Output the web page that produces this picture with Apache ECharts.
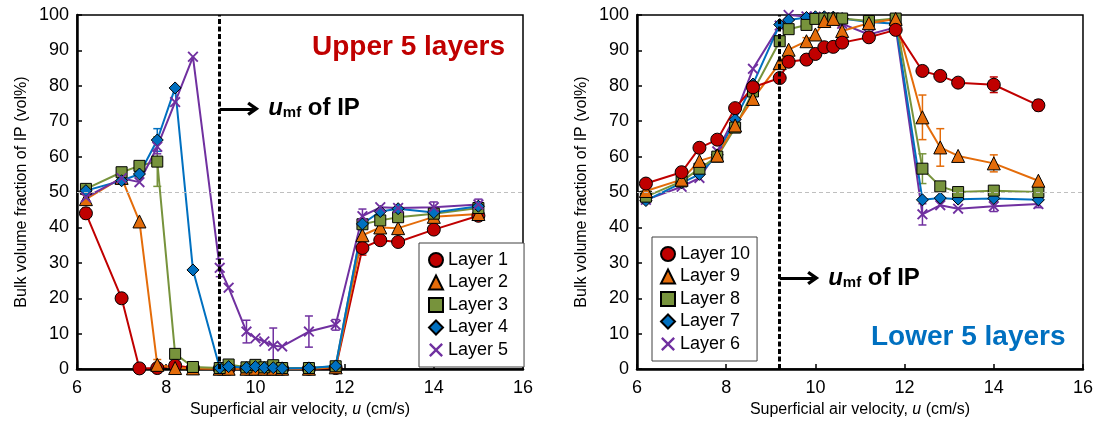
<!DOCTYPE html>
<html>
<head>
<meta charset="utf-8">
<script src="https://cdn.jsdelivr.net/npm/echarts@6/dist/echarts.min.js"></script>
<style>html,body{margin:0;padding:0;background:#fff;}#c{width:1096px;height:423px;}</style>
</head>
<body>
<div id="c"></div>
<script>
// Superficial air velocity (cm/s)
var velocity = [6.2, 7.0, 7.4, 7.8, 8.2, 8.6, 9.2, 9.4, 9.8, 10.0, 10.2, 10.4, 10.6, 11.2, 11.8, 12.4, 12.8, 13.2, 14.0, 15.0];
var xTicks = [6, 8, 10, 12, 14, 16];
var yTicks = [0, 10, 20, 30, 40, 50, 60, 70, 80, 90, 100];
var umf = 9.2;

// Upper 5 layers (left chart)
var layer1 = [44.0, 20.0, 0.2, 0.3, 1.0, 0.3, 0.1, 0.1, 0.1, 0.1, 0.1, 0.1, 0.1, 0.1, 0.3, 34.2, 36.4, 35.9, 39.4, 43.3];
var layer2 = [48.0, 54.0, 41.7, 1.2, 0.3, 0.2, 0.1, 0.1, 0.1, 0.1, 0.1, 0.1, 0.1, 0.1, 0.5, 37.8, 40.0, 39.8, 43.0, 43.8];
var layer3 = [50.9, 55.6, 57.4, 58.6, 4.3, 0.6, 0.3, 1.3, 0.5, 1.2, 0.5, 1.1, 0.3, 0.3, 0.8, 40.9, 42.0, 42.9, 43.9, 45.5];
var layer4 = [50.4, 53.2, 55.1, 64.7, 79.4, 28.0, 0.3, 0.7, 0.4, 0.7, 0.4, 0.4, 0.2, 0.3, 0.9, 41.0, 44.5, 45.3, 44.2, 46.0];
var layer5 = [48.5, 53.9, 52.8, 62.8, 75.4, 88.2, 28.6, 23.0, 10.6, 8.7, 7.8, 6.6, 6.4, 10.6, 12.5, 43.2, 45.7, 45.5, 45.7, 46.5];

// Lower 5 layers (right chart)
var layer10 = [52.4, 55.6, 62.5, 64.8, 73.7, 79.6, 82.2, 86.8, 87.4, 89.0, 90.9, 91.0, 92.2, 93.7, 95.8, 84.2, 82.8, 80.9, 80.3, 74.5];
var layer9 = [50.3, 53.5, 58.8, 60.3, 68.8, 76.3, 86.4, 90.2, 92.6, 94.5, 98.3, 98.9, 95.5, 97.7, 98.9, 71.1, 62.6, 60.2, 58.1, 53.2];
var layer8 = [48.7, 53.0, 56.6, 60.0, 68.2, 78.4, 92.6, 96.0, 97.2, 98.9, 99.0, 99.0, 99.0, 98.3, 99.0, 56.6, 51.6, 50.0, 50.4, 50.0];
var layer7 = [47.6, 52.6, 55.0, 60.5, 70.5, 80.5, 97.3, 98.6, 99.3, 99.5, 99.5, 99.4, 99.0, 98.0, 97.5, 47.8, 48.3, 48.0, 48.2, 47.8];
var layer6 = [47.8, 51.5, 54.0, 61.5, 71.5, 84.8, 97.0, 100.0, 99.6, 99.5, 99.3, 99.0, 97.5, 94.5, 96.5, 43.7, 46.3, 45.3, 46.0, 46.6];

// Error bars: [velocity, +/- error]
var err1 = [[6.2, 1.5], [12.4, 2.0]];
var err2 = [[6.2, 1.2], [7.8, 1.5]];
var err3 = [[7.8, 7.0]];
var err4 = [[7.8, 3.2]];
var err5 = [[7.8, 2.0], [9.2, 2.5], [9.8, 3.2], [10.4, 5.0], [11.2, 4.4], [11.8, 1.5], [12.4, 2.0], [14.0, 1.5], [15.0, 1.5]];
var err10 = [[9.8, 1.0], [11.2, 1.0], [14.0, 2.2], [15.0, 1.5]];
var err9 = [[9.8, 1.0], [12.4, 6.3], [12.8, 5.3], [14.0, 2.4]];
var err8 = [[12.4, 4.2], [14.0, 1.0]];
var err7 = [];
var err6 = [[12.4, 3.0], [14.0, 1.5], [15.0, 1.0]];

var FONT = 'Liberation Sans, Arial, sans-serif';
var RED = '#C00000', ORANGE = '#E46C0A', GREEN = '#77933C', BLUE = '#0070C0', PURPLE = '#7030A0';
var CROSS = 'path://M0,1.2L1.2,0L5,3.8L8.8,0L10,1.2L6.2,5L10,8.8L8.8,10L5,6.2L1.2,10L0,8.8L3.8,5Z';
var CHEVRON = 'path://M5,0L10,7.2L8.2,8.6L5,4.2L1.8,8.6L0,7.2Z';

function pts(vals) { return velocity.map(function (x, i) { return [x, vals[i]]; }); }

function lineSeries(name, vals, color, symbol, size, gi, isCross) {
  return {
    type: 'line', name: name, data: pts(vals), xAxisIndex: gi, yAxisIndex: gi,
    symbol: symbol, symbolSize: size, showAllSymbol: true, z: 3,
    lineStyle: { color: color, width: 2 },
    itemStyle: isCross ? { color: color, borderWidth: 0 } : { color: color, borderColor: '#000', borderWidth: 1 },
    animation: false
  };
}

function errSeries(vals, err, color, gi) {
  var d = err.map(function (p) { return [p[0], vals[velocity.indexOf(p[0])], p[1]]; });
  return {
    type: 'custom', xAxisIndex: gi, yAxisIndex: gi, z: 2, silent: true, animation: false,
    data: d, encode: { x: 0, y: 1 },
    renderItem: function (params, api) {
      var x = api.value(0), y = api.value(1), e = api.value(2);
      var top = api.coord([x, y + e]), bot = api.coord([x, y - e]);
      var w = 4;
      var st = { stroke: color, lineWidth: 1.5 };
      return { type: 'group', children: [
        { type: 'line', shape: { x1: top[0], y1: top[1], x2: bot[0], y2: bot[1] }, style: st },
        { type: 'line', shape: { x1: top[0] - w, y1: top[1], x2: top[0] + w, y2: top[1] }, style: st },
        { type: 'line', shape: { x1: bot[0] - w, y1: bot[1], x2: bot[0] + w, y2: bot[1] }, style: st }
      ]};
    }
  };
}

function markLines(arrowY) {
  var labelRich = {
    u: { fontFamily: FONT, fontSize: 24, fontWeight: 'bold', fontStyle: 'italic', color: '#000', lineHeight: 24, verticalAlign: 'top' },
    s: { fontFamily: FONT, fontSize: 15, fontWeight: 'bold', color: '#000', lineHeight: 15, verticalAlign: 'bottom', padding: [13, 0, 0, 0] },
    t: { fontFamily: FONT, fontSize: 24, fontWeight: 'bold', color: '#000', lineHeight: 24, verticalAlign: 'top' }
  };
  return {
    silent: true, animation: false, symbol: 'none',
    label: { show: false },
    data: [
      { yAxis: 50, lineStyle: { color: '#BFBFBF', width: 1, type: [4, 3] } },
      { xAxis: umf, lineStyle: { color: '#000', width: 3, type: [5, 2.5] } },
      [
        { coord: [umf, arrowY], symbol: 'none', lineStyle: { color: '#000', width: 3, type: 'solid' } },
        { coord: [9.95, arrowY], symbol: CHEVRON, symbolSize: [14, 12],
          lineStyle: { color: '#000', width: 3, type: 'solid' },
          itemStyle: { color: '#000' },
          label: { show: true, position: 'end', distance: 15, formatter: '{u|u}{s|mf}{t| of IP}', rich: labelRich } }
      ]
    ]
  };
}

var s1 = lineSeries('Layer 1', layer1, RED, 'circle', 13, 0);
s1.markLine = markLines(73.5);
var s10 = lineSeries('Layer 10', layer10, RED, 'circle', 13, 1);
var s6 = lineSeries('Layer 6', layer6, PURPLE, CROSS, 11, 1, true);
s6.markLine = markLines(25.7);

function xAxisCfg(gi) {
  return {
    type: 'value', gridIndex: gi, min: xTicks[0], max: xTicks[xTicks.length - 1], interval: 2,
    name: 'Superficial air velocity, {i|u} (cm/s)', nameLocation: 'middle', nameGap: 30,
    nameTextStyle: { fontFamily: FONT, fontSize: 16, color: '#000', rich: { i: { fontFamily: FONT, fontSize: 16, fontStyle: 'italic', color: '#000' } } },
    axisLine: { show: true, onZero: false, lineStyle: { color: '#000', width: 2.5 } },
    axisTick: { show: true, inside: true, length: 5, lineStyle: { color: '#000', width: 1.5 } },
    axisLabel: { fontFamily: FONT, fontSize: 18, color: '#000', margin: 10 },
    splitLine: { show: false }
  };
}
function yAxisCfg(gi) {
  return {
    type: 'value', gridIndex: gi, min: yTicks[0], max: yTicks[yTicks.length - 1], interval: 10,
    name: 'Bulk volume fraction of IP (vol%)', nameLocation: 'middle', nameGap: 47,
    nameTextStyle: { fontFamily: FONT, fontSize: 16, color: '#000' },
    axisLine: { show: true, lineStyle: { color: '#000', width: 2.5 } },
    axisTick: { show: true, inside: true, length: 5, lineStyle: { color: '#000', width: 1.5 } },
    axisLabel: { fontFamily: FONT, fontSize: 18, color: '#000', margin: 8 },
    splitLine: { show: false }
  };
}

var legendText = { fontFamily: FONT, fontSize: 18, color: '#000' };

var option = {
  backgroundColor: '#fff',
  animation: false,
  title: [
    { text: 'Upper 5 layers', left: 312, top: 33, padding: 0, textStyle: { fontFamily: FONT, fontSize: 28, fontWeight: 'bold', color: RED } },
    { text: 'Lower 5 layers', left: 871, top: 323, padding: 0, textStyle: { fontFamily: FONT, fontSize: 28, fontWeight: 'bold', color: BLUE } }
  ],
  grid: [
    { left: 77, top: 15, width: 446, height: 358, show: true, borderColor: '#000', borderWidth: 1.5, backgroundColor: 'transparent' },
    { left: 637, top: 15, width: 446, height: 358, show: true, borderColor: '#000', borderWidth: 1.5, backgroundColor: 'transparent' }
  ],
  xAxis: [xAxisCfg(0), xAxisCfg(1)],
  yAxis: [yAxisCfg(0), yAxisCfg(1)],
  legend: [
    { orient: 'vertical', left: 419, top: 243, backgroundColor: '#fff', borderColor: '#404040', borderWidth: 1,
      padding: [8, 16, 8, 9], itemGap: 4.5, itemWidth: 14, itemHeight: 14, textStyle: legendText,
      data: [
        { name: 'Layer 1', icon: 'circle' }, { name: 'Layer 2', icon: 'triangle' }, { name: 'Layer 3', icon: 'rect' },
        { name: 'Layer 4', icon: 'diamond' }, { name: 'Layer 5', icon: CROSS }
      ] },
    { orient: 'vertical', left: 652, top: 237, backgroundColor: '#fff', borderColor: '#404040', borderWidth: 1,
      padding: [8, 7, 8, 8], itemGap: 4.5, itemWidth: 14, itemHeight: 14, textStyle: legendText,
      data: [
        { name: 'Layer 10', icon: 'circle' }, { name: 'Layer 9', icon: 'triangle' }, { name: 'Layer 8', icon: 'rect' },
        { name: 'Layer 7', icon: 'diamond' }, { name: 'Layer 6', icon: CROSS }
      ] }
  ],
  series: [
    s1,
    lineSeries('Layer 2', layer2, ORANGE, 'triangle', 13, 0),
    lineSeries('Layer 3', layer3, GREEN, 'rect', 11, 0),
    lineSeries('Layer 4', layer4, BLUE, 'diamond', 12, 0),
    lineSeries('Layer 5', layer5, PURPLE, CROSS, 11, 0, true),
    errSeries(layer1, err1, RED, 0), errSeries(layer2, err2, ORANGE, 0), errSeries(layer3, err3, GREEN, 0),
    errSeries(layer4, err4, BLUE, 0), errSeries(layer5, err5, PURPLE, 0),
    s6,
    lineSeries('Layer 7', layer7, BLUE, 'diamond', 12, 1),
    lineSeries('Layer 8', layer8, GREEN, 'rect', 11, 1),
    lineSeries('Layer 9', layer9, ORANGE, 'triangle', 13, 1),
    s10,
    errSeries(layer10, err10, RED, 1), errSeries(layer9, err9, ORANGE, 1), errSeries(layer8, err8, GREEN, 1),
    errSeries(layer7, err7, BLUE, 1), errSeries(layer6, err6, PURPLE, 1)
  ]
};

var chart = echarts.init(document.getElementById('c'), null, { renderer: 'canvas' });
chart.setOption(option);
</script>
</body>
</html>
